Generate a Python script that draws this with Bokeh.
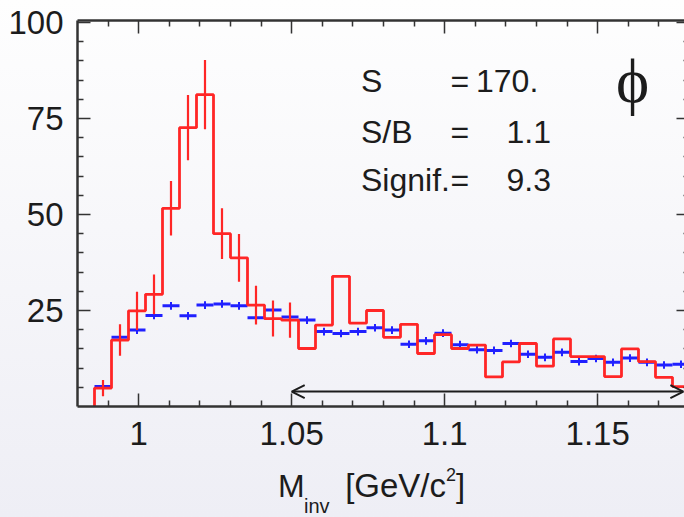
import numpy as np
from bokeh.plotting import figure
from bokeh.layouts import column
from bokeh.models import (Range1d, FixedTicker, LinearAxis, Label, Arrow, Div,
                          OpenHead, CustomJSTickFormatter, ColumnDataSource)
from bokeh.embed import file_html
from bokeh.resources import INLINE

# ---- binning: 36 bins over 0.98-1.18 GeV/c^2, first bin empty ----
bin_edges = np.linspace(0.98, 1.18, 37)[1:]          # edges of bins 1..35

# signal (same-event minus mixed) histogram, with statistical errors
red_counts = [4.8, 17.3, 24.9, 29.2, 51.6, 72.6, 81.2, 45.0, 38.7, 26.4,
              22.9, 22.5, 15.1, 21.2, 33.9, 21.7, 25.0, 18.0, 21.4, 13.8,
              18.7, 15.1, 16.0, 7.7, 11.6, 16.4, 10.5, 17.6, 13.0, 13.0,
              7.8, 15.0, 11.7, 7.6, 5.2]
red_errors = [2.1, 4.1, 5.0, 5.2, 7.1, 8.5, 9.0, 6.6, 6.2, 5.05, 4.7, 4.6]

# mixed-event background
blue_counts = [5.2, 18.0, 19.9, 23.7, 26.2, 23.6, 26.4, 26.7, 26.2, 23.1,
               25.1, 23.3, 22.5, 19.5, 19.0, 19.5, 20.5, 19.9, 16.2, 17.1,
               19.1, 16.1, 14.8, 14.6, 16.4, 13.6, 12.8, 14.1, 11.7, 12.5,
               11.5, 12.6, 11.5, 10.8, 11.0]
blue_errors = [1.0] * len(blue_counts)

# axis ticks
x_ticks = [1.0, 1.05, 1.1, 1.15]
x_tick_labels = ["1", "1.05", "1.1", "1.15"]
x_minor = [0.99, 1.01, 1.02, 1.03, 1.04, 1.06, 1.07, 1.08, 1.09,
           1.11, 1.12, 1.13, 1.14, 1.16, 1.17]
y_ticks = [25, 50, 75, 100]
y_minor = [5, 10, 15, 20, 30, 35, 40, 45, 55, 60, 65, 70, 80, 85, 90, 95]

# fit window marker and statistics
window = (1.05, 1.178)
stats_names = ["S", "S/B", "Signif."]
stats_values = ["170.", "1.1", "9.3"]

INK = "#1c1c1c"
AXIS = "#333333"
RED = "#ff2626"
BLUE = "#2020ff"
FONT = "Liberation Sans"

p = figure(width=684, height=466,
           x_range=Range1d(0.98, 1.17837), y_range=Range1d(0, 100.5),
           x_axis_type=None, y_axis_type=None,
           output_backend="svg", toolbar_location=None,
           min_border_left=77, min_border_right=0,
           min_border_top=20, min_border_bottom=60)
p.outline_line_color = None
p.background_fill_color = None
p.border_fill_color = None

# ---- axes (ROOT style: ticks pointing into the frame) ----
fmt = CustomJSTickFormatter(args=dict(vals=x_ticks, labs=x_tick_labels), code="""
    for (let i = 0; i < vals.length; i++) {
        if (Math.abs(vals[i] - tick) < 1e-6) return labs[i];
    }
    return "";
""")
blank = CustomJSTickFormatter(code='return "";')

def style_axis(ax, show_labels, major_in, minor_in, line=True):
    ax.major_tick_in = major_in
    ax.major_tick_out = 0
    ax.minor_tick_in = minor_in
    ax.minor_tick_out = 0
    ax.major_tick_line_color = AXIS
    ax.minor_tick_line_color = AXIS
    ax.major_tick_line_width = 1.5
    ax.minor_tick_line_width = 1.5
    ax.axis_line_color = AXIS if line else None
    ax.axis_line_width = 2.5
    if show_labels:
        ax.major_label_text_font = FONT
        ax.major_label_text_font_size = "33px"
        ax.major_label_text_color = INK
    else:
        ax.formatter = blank
        ax.major_label_text_font_size = "1px"
        ax.major_label_standoff = 0

xticker = FixedTicker(ticks=x_ticks, minor_ticks=x_minor)
yticker = FixedTicker(ticks=y_ticks, minor_ticks=y_minor)

bottom = LinearAxis(ticker=xticker, formatter=fmt)
style_axis(bottom, True, 13, 6)
bottom.major_label_standoff = 15
p.add_layout(bottom, "below")

top = LinearAxis(ticker=xticker)
style_axis(top, False, 13, 6)
p.add_layout(top, "above")

left = LinearAxis(ticker=yticker)
style_axis(left, True, 13, 6)
left.major_label_standoff = 14
p.add_layout(left, "left")

right = LinearAxis(ticker=yticker)
style_axis(right, False, 8, 1, line=False)
p.add_layout(right, "right")

# ---- background (mixed-event) points ----
lo = bin_edges[:-1]
hi = bin_edges[1:]
ctr = 0.5 * (lo + hi)
bsrc = ColumnDataSource(dict(lo=lo, hi=hi, x=ctr, y=blue_counts,
                             ylo=np.array(blue_counts) - np.array(blue_errors),
                             yhi=np.array(blue_counts) + np.array(blue_errors)))
p.segment(x0="lo", y0="y", x1="hi", y1="y", source=bsrc,
          line_color=BLUE, line_width=3)
p.segment(x0="x", y0="ylo", x1="x", y1="yhi", source=bsrc,
          line_color=BLUE, line_width=2)

# ---- signal histogram outline ----
hx = [lo[0]]
hy = [0.0]
for a, b, v in zip(lo, hi, red_counts):
    hx += [a, b]
    hy += [v, v]
hx.append(hi[-1])
hy.append(0.0)
p.line(hx, hy, line_color=RED, line_width=2.8)

n_err = len(red_errors)
rsrc = ColumnDataSource(dict(x=ctr[:n_err],
                             ylo=np.array(red_counts[:n_err]) - np.array(red_errors),
                             yhi=np.array(red_counts[:n_err]) + np.array(red_errors)))
p.segment(x0="x", y0="ylo", x1="x", y1="yhi", source=rsrc,
          line_color=RED, line_width=2.2)

# ---- fit window arrow ----
p.add_layout(Arrow(x_start=window[1], y_start=3.9, x_end=window[0], y_end=3.9,
                   start=OpenHead(size=13, line_color=INK, line_width=2),
                   end=OpenHead(size=13, line_color=INK, line_width=2),
                   line_color=INK, line_width=2))

# ---- statistics block ----
rows_y = [84.80, 71.52, 58.97]
val_x = [1.11023, 1.12020, 1.12020]
for name, val, yy, vx in zip(stats_names, stats_values, rows_y, val_x):
    for xx, txt in ((1.07265, name), (1.10190, "="), (vx, val)):
        p.add_layout(Label(x=xx, y=yy, text=txt, text_font=FONT,
                           text_font_size="32px", text_color=INK,
                           text_baseline="alphabetic"))

# particle symbol
p.add_layout(Label(x=1.16137, y=84.77, text="\u03d5", text_font="Liberation Serif",
                   text_font_size="63px", text_color=INK,
                   text_align="center", text_baseline="alphabetic"))

# ---- x axis title: M_inv [GeV/c^2] ----
span = "position:absolute;line-height:1;white-space:nowrap;"
title_html = (
    f'<div style="position:relative;width:684px;height:51px;'
    f'font-family:\'{FONT}\';color:{INK};">'
    f'<span style="{span}left:278px;top:4px;font-size:32px;">M</span>'
    f'<span style="{span}left:304px;top:30px;font-size:20px;">inv</span>'
    f'<span style="{span}right:238px;top:3px;font-size:33px;">[GeV/c</span>'
    f'<span style="{span}left:446px;top:0px;font-size:18px;">2</span>'
    f'<span style="{span}left:456px;top:3px;font-size:33px;">]</span>'
    '</div>'
)
xtitle = Div(text=title_html, width=684, height=51, margin=0)

page = column(p, xtitle, spacing=0,
              styles={"background": "linear-gradient(to bottom, #fefefe 0%, #eeeef5 100%)"})

with open("out.html", "w") as f:
    f.write(file_html(page, INLINE))
